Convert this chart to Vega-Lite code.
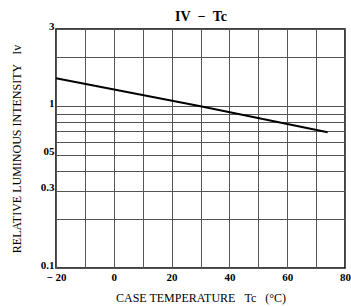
{
  "$schema": "https://vega.github.io/schema/vega-lite/v6.json",
  "width": 289,
  "height": 239,
  "autosize": {"type": "none"},
  "padding": {"left": 56, "top": 29, "right": 6, "bottom": 39},
  "background": "white",
  "config": {
    "view": {"stroke": "black", "strokeWidth": 1.5},
    "axis": {
      "domain": false,
      "ticks": false,
      "gridColor": "#555555",
      "gridWidth": 1,
      "gridOpacity": 1,
      "labelFont": "Liberation Serif",
      "labelFontSize": 11,
      "labelFontWeight": "bold",
      "labelColor": "black",
      "titleFont": "Liberation Serif",
      "titleFontSize": 12,
      "titleFontWeight": "normal",
      "titleColor": "black"
    }
  },
  "data": {
    "values": [
      {"t": -20, "iv": 1.49},
      {"t": 30, "iv": 1.0},
      {"t": 74, "iv": 0.69}
    ]
  },
  "resolve": {"axis": {"x": "independent"}},
  "layer": [
    {
      "mark": {"type": "line", "color": "black", "strokeWidth": 2},
      "encoding": {
        "x": {
          "field": "t",
          "type": "quantitative",
          "scale": {"domain": [-20, 80], "nice": false},
          "axis": {
            "values": [-20, -10, 0, 10, 20, 30, 40, 50, 60, 70, 80],
            "labelExpr": "datum.value % 20 == 0 ? (datum.value < 0 ? '− 20' : datum.label) : ''",
            "labelPadding": 3,
            "labelFlush": false,
            "title": "CASE TEMPERATURE\u00a0\u00a0\u00a0Tc\u00a0\u00a0\u00a0(°C)",
            "titlePadding": 10
          }
        },
        "y": {
          "field": "iv",
          "type": "quantitative",
          "scale": {"type": "log", "domain": [0.1, 3], "nice": false},
          "axis": {
            "values": [0.1, 0.2, 0.3, 0.4, 0.5, 0.6, 0.7, 0.8, 0.9, 1, 2, 3],
            "labelExpr": "datum.value == 3 ? '3' : datum.value == 1 ? '1' : datum.value == 0.5 ? '05' : datum.value == 0.3 ? '0.3' : datum.value == 0.1 ? '0.1' : ''",
            "labelPadding": 2,
            "labelFlush": false,
            "labelBaseline": "alphabetic",
            "title": "RELATIVE LUMINOUS INTENSITY\u00a0\u00a0\u00a0Iv",
            "titlePadding": 17
          }
        }
      }
    },
    {
      "mark": {"type": "line", "opacity": 0},
      "encoding": {
        "x": {
          "field": "t",
          "type": "quantitative",
          "scale": {"domain": [-20, 80], "nice": false},
          "axis": {
            "orient": "top",
            "labels": false,
            "grid": false,
            "title": "IV\u00a0\u00a0−\u00a0\u00a0Tc",
            "titleFontSize": 14,
            "titleFontWeight": "bold",
            "titlePadding": 6
          }
        },
        "y": {"field": "iv", "type": "quantitative"}
      }
    }
  ]
}
